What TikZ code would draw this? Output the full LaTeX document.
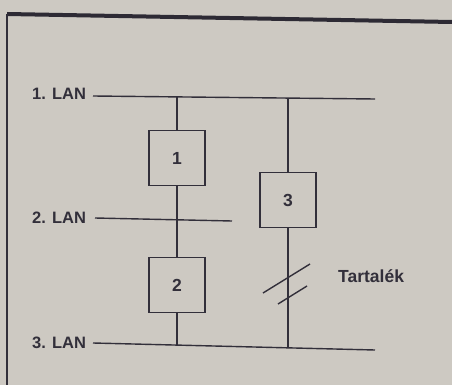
\documentclass[tikz,border=0pt]{standalone}
\usepackage{fontspec}
\setmainfont{Liberation Sans}
\definecolor{paper}{RGB}{205,201,194}
\definecolor{ink}{RGB}{50,47,58}
\begin{document}
\begin{tikzpicture}[x=1pt,y=-1pt,
  lbl/.style={font=\bfseries\fontsize{16.5}{18}\selectfont, text=ink, inner sep=0pt},
  unit/.style={draw=ink, line width=1.4pt, minimum width=56pt, minimum height=55pt, inner sep=0pt, font=\bfseries\fontsize{17.5}{20}\selectfont, text=ink},
  wire/.style={draw=ink, line width=1.4pt},
  frame/.style={draw=ink, line width=1.6pt}]
\fill[paper] (0,0) rectangle (452,385);
\useasboundingbox (0,0) rectangle (452,385);
% frame
\coordinate (tl) at (7,14);
\coordinate (tr) at (452,22);
\coordinate (bl) at (7,385);
\draw[draw=ink!90!black, line width=4pt] (tl) -- (tr);
\draw[frame] (tl) -- (bl);
% LAN labels
\node[lbl, anchor=base west] (l1) at (32,100) {1. LAN};
\node[lbl, anchor=base west] (l2) at (32,223) {2. LAN};
\node[lbl, anchor=base west] (l3) at (32,348) {3. LAN};
% bus lines
\coordinate (b1s) at (93,96);
\coordinate (b1e) at (375,99);
\coordinate (b2s) at (95,218);
\coordinate (b2e) at (232,221);
\coordinate (b3s) at (93,343);
\coordinate (b3e) at (375,350);
\draw[wire] (b1s) -- (b1e);
\draw[wire] (b2s) -- (b2e);
\draw[wire] (b3s) -- (b3e);
% units
\node[unit] (u1) at (177,158) {1};
\node[unit] (u2) at (177,285) {2};
\node[unit] (u3) at (288,200) {3};
% vertical links
\coordinate (v1t) at (177,96.5);
\coordinate (v1b) at (177,345);
\coordinate (v3t) at (288,98);
\coordinate (v3b) at (288,348);
\draw[wire] (v1t) -- (u1.north);
\draw[wire] (u1.south) -- (u2.north);
\draw[wire] (u2.south) -- (v1b);
\draw[wire] (v3t) -- (u3.north);
\draw[wire] (u3.south) -- (v3b);
% break marks
\coordinate (s1a) at (263,293);
\coordinate (s1b) at (310,264);
\coordinate (s2a) at (278,304);
\coordinate (s2b) at (307,286);
\draw[wire] (s1a) -- (s1b);
\draw[wire] (s2a) -- (s2b);
\node[lbl, anchor=base west, font=\bfseries\fontsize{17.5}{20}\selectfont] (tart) at (338,282) {Tartalék};
\end{tikzpicture}
\end{document}
